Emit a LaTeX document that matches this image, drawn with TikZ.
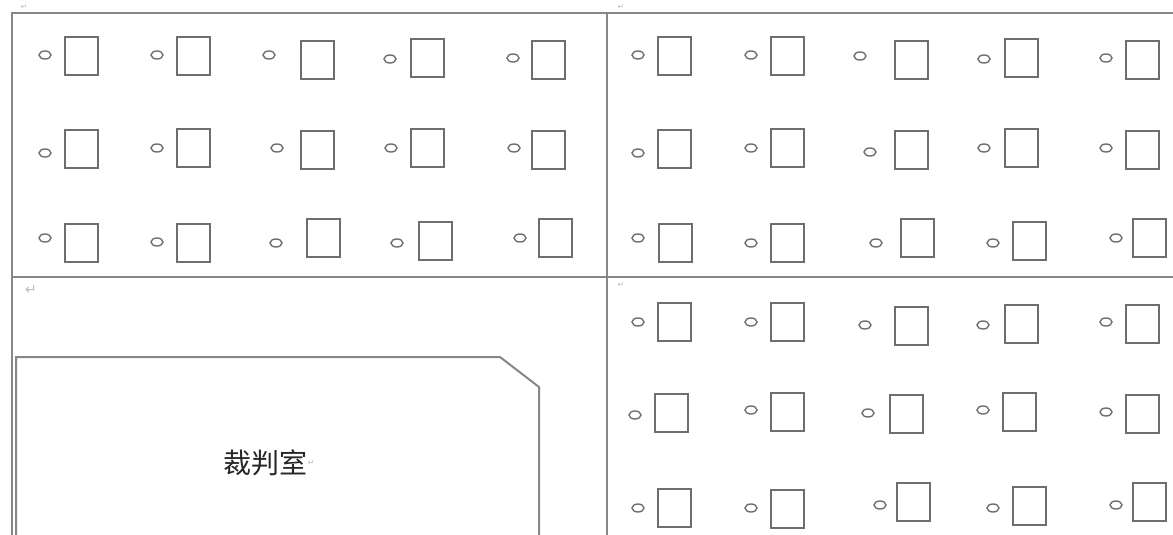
\documentclass[tikz,border=0pt]{standalone}
\usepackage{fontspec}
\newfontfamily\cjk{Noto Sans CJK SC}
\newfontfamily\markfont{DejaVu Sans}
\definecolor{wallgray}{RGB}{135,135,135}
\definecolor{deskgray}{RGB}{110,110,110}
\definecolor{markgray}{RGB}{185,185,185}
\tikzset{
  wall/.style={wallgray, line width=1pt},
  desk/.style={deskgray, line width=0.7pt},
  ball/.style={deskgray, line width=0.7pt},
  parmark/.style={markgray, inner sep=0pt, font=\markfont\fontsize{4}{4}\selectfont}
}

\begin{document}
\begin{tikzpicture}[x=0.5pt, y=-0.5pt]
\useasboundingbox (0,0) rectangle (1173,535);
% WALLS
\draw[wall] (12,535) -- (12,13) -- (1173,13);
\draw[wall] (607,13) -- (607,535);
\draw[wall] (12,277) -- (1173,277);
% paragraph marks
\node[parmark] (pm1) at (24,7) {↵};
\node[parmark] (pm2) at (621,7) {↵};
\node[parmark, font=\markfont\fontsize{7}{7}\selectfont] (pm3) at (31,290) {↵};
\node[parmark] (pm4) at (621,285) {↵};
% SEATS: oval x/y, desk left/top
\foreach \ox/\oy/\rx/\ry in {
  45/55/65/37, 157/55/177/37, 269/55/301/41, 390/59/411/39, 513/58/532/41,
  45/153/65/130, 157/148/177/129, 277/148/301/131, 391/148/411/129, 514/148/532/131,
  45/238/65/224, 157/242/177/224, 276/243/307/219, 397/243/419/222, 520/238/539/219,
  638/55/658/37, 751/55/771/37, 860/56/895/41, 984/59/1005/39, 1106/58/1126/41,
  638/153/658/130, 751/148/771/129, 870/152/895/131, 984/148/1005/129, 1106/148/1126/131,
  638/238/659/224, 751/243/771/224, 876/243/901/219, 993/243/1013/222, 1116/238/1133/219,
  638/322/658/303, 751/322/771/303, 865/325/895/307, 983/325/1005/305, 1106/322/1126/305,
  635/415/655/394, 751/410/771/393, 868/413/890/395, 983/410/1003/393, 1106/412/1126/395,
  638/508/658/489, 751/508/771/490, 880/505/897/483, 993/508/1013/487, 1116/505/1133/483
}{
  \draw[ball] (\ox,\oy) ellipse [x radius=6, y radius=4];
  \draw[desk] (\rx,\ry) rectangle ++(33,38);
}
% REFEREE ROOM
\draw[wall] (16,535) -- (16,357) -- (500,357) -- (539,387) -- (539,535);
\node[font=\cjk\fontsize{14}{16}\selectfont, text=black!85, inner sep=0pt] (room) at (265,463) {裁判室};
\node[parmark, anchor=west] (pm5) at (room.east) {↵};
\end{tikzpicture}
\end{document}
